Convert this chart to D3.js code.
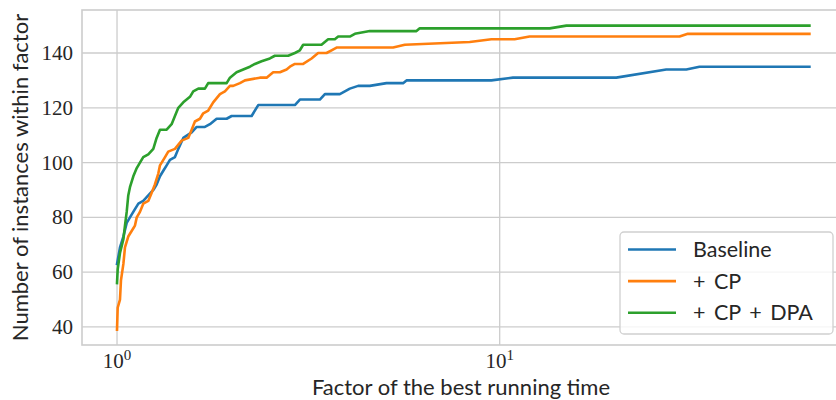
<!DOCTYPE html>
<html>
<head>
<meta charset="utf-8">
<script src="https://cdn.jsdelivr.net/npm/d3@7"></script>
<style>
  body { margin: 0; background: #fff; }
  text { fill: #262626; }
  .tick-label { font-family: "Liberation Serif", serif; font-size: 21px; }
  .axis-label { font-family: Lato, sans-serif; font-size: 22px; }
  .legend text { font-family: Lato, sans-serif; font-size: 21.5px; word-spacing: 3px; }
</style>
</head>
<body>
<svg width="836" height="400"></svg>
<script>
// performance profile: factor of best running time vs. instances solved
var seriesNames = ["Baseline", "+ CP", "+ CP + DPA"];
var seriesColors = ["#1f77b4", "#ff7f0e", "#2ca02c"];

var baselineFactor = [1.0, 1.018, 1.039, 1.060, 1.081, 1.114, 1.137, 1.171, 1.207, 1.244, 1.269, 1.295, 1.321, 1.348, 1.375, 1.417, 1.446, 1.490, 1.567, 1.615, 1.697, 1.749, 1.821, 1.934, 1.993, 2.248, 2.339, 2.665, 2.916, 3.005, 3.389, 3.493, 3.822, 4.059, 4.267, 4.577, 5.061, 5.592, 5.707, 8.35, 9.514, 10.83, 20.17, 27.24, 30.73, 33.28, 64.47];
var baselineCount  = [63, 69, 73, 78, 80, 83, 85, 86, 88, 90, 92, 95, 97, 99, 101, 102, 105, 109, 111, 113, 113, 114, 116, 116, 117, 117, 121, 121, 121, 123, 123, 125, 125, 127, 128, 128, 129, 129, 130, 130, 130, 131, 131, 134, 134, 135, 135];

var cpFactor = [1.0, 1.004, 1.018, 1.024, 1.039, 1.049, 1.070, 1.092, 1.114, 1.126, 1.148, 1.171, 1.207, 1.232, 1.256, 1.282, 1.295, 1.335, 1.361, 1.417, 1.475, 1.535, 1.567, 1.598, 1.647, 1.680, 1.731, 1.784, 1.858, 1.914, 1.973, 2.012, 2.095, 2.159, 2.362, 2.460, 2.559, 2.665, 2.774, 2.830, 2.916, 3.065, 3.224, 3.354, 3.528, 3.636, 3.747, 5.267, 5.649, 8.35, 9.514, 10.94, 11.97, 29.51, 31.02, 64.47];
var cpCount  = [39, 47, 50, 57, 63, 69, 73, 75, 77, 80, 82, 85, 86, 89, 92, 96, 99, 102, 104, 105, 108, 109, 112, 115, 116, 118, 119, 122, 125, 126, 128, 128, 129, 130, 131, 131, 133, 133, 134, 135, 136, 136, 138, 140, 140, 141, 142, 142, 143, 144, 145, 145, 146, 146, 147, 147];

var dpaFactor = [1.0, 1.004, 1.018, 1.039, 1.049, 1.060, 1.070, 1.081, 1.103, 1.126, 1.148, 1.171, 1.207, 1.244, 1.269, 1.295, 1.348, 1.389, 1.417, 1.446, 1.490, 1.551, 1.582, 1.631, 1.697, 1.731, 1.934, 1.973, 2.053, 2.137, 2.225, 2.293, 2.387, 2.509, 2.585, 2.801, 2.916, 3.005, 3.065, 3.423, 3.562, 3.709, 3.784, 4.059, 4.183, 4.577, 6.061, 6.182, 13.51, 14.94, 64.47];
var dpaCount  = [56, 61, 67, 72, 77, 82, 88, 91, 95, 98, 100, 102, 103, 105, 109, 112, 112, 114, 117, 120, 122, 124, 126, 127, 127, 129, 129, 131, 133, 134, 135, 136, 137, 138, 139, 139, 140, 141, 143, 143, 145, 145, 146, 146, 147, 148, 148, 149, 149, 150, 150];

var yTicks = [40, 60, 80, 100, 120, 140];
var xTicks = [1, 10];

var svg = d3.select("svg"),
    width = +svg.attr("width"),
    height = +svg.attr("height");

var plot = {left: 82, top: 10, right: 840, bottom: 345};

var x = d3.scaleLog()
    .domain([0.81, 77.5])
    .range([plot.left, plot.right]);

var y = d3.scaleLinear()
    .domain([33.4, 155.7])
    .range([plot.bottom, plot.top]);

svg.append("clipPath").attr("id", "clip")
  .append("rect")
    .attr("x", plot.left).attr("y", plot.top)
    .attr("width", plot.right - plot.left).attr("height", plot.bottom - plot.top);

// grid
var grid = svg.append("g").attr("class", "grid");
grid.selectAll("line.h")
    .data(yTicks)
  .enter().append("line")
    .attr("x1", plot.left).attr("x2", plot.right)
    .attr("y1", function(d) { return y(d); })
    .attr("y2", function(d) { return y(d); })
    .attr("stroke", "#cccccc").attr("stroke-width", 1.3);
grid.selectAll("line.v")
    .data(xTicks)
  .enter().append("line")
    .attr("y1", plot.top).attr("y2", plot.bottom)
    .attr("x1", function(d) { return x(d); })
    .attr("x2", function(d) { return x(d); })
    .attr("stroke", "#cccccc").attr("stroke-width", 1.3);

// frame
svg.append("rect")
    .attr("x", plot.left).attr("y", plot.top)
    .attr("width", plot.right - plot.left).attr("height", plot.bottom - plot.top)
    .attr("fill", "none")
    .attr("stroke", "#cccccc")
    .attr("stroke-width", 1.6);

// tick labels
svg.append("g").selectAll("text")
    .data(yTicks)
  .enter().append("text")
    .attr("class", "tick-label")
    .attr("x", 73)
    .attr("y", function(d) { return y(d); })
    .attr("dy", "0.34em")
    .attr("text-anchor", "end")
    .text(function(d) { return d; });

var xt = svg.append("g").selectAll("text")
    .data(xTicks)
  .enter().append("text")
    .attr("class", "tick-label")
    .attr("x", function(d) { return x(d); })
    .attr("y", 368)
    .attr("text-anchor", "middle");
xt.append("tspan").text("10");
xt.append("tspan")
    .attr("dy", -8)
    .style("font-size", "15px")
    .text(function(d) { return Math.round(Math.log10(d)); });

// axis labels
svg.append("text")
    .attr("class", "axis-label")
    .attr("x", 461).attr("y", 395)
    .attr("text-anchor", "middle")
    .text("Factor of the best running time");

svg.append("text")
    .attr("class", "axis-label")
    .attr("transform", "translate(28," + ((plot.top + plot.bottom) / 2) + ") rotate(-90)")
    .attr("text-anchor", "middle")
    .text("Number of instances within factor");

// lines
var series = [
  {name: seriesNames[0], color: seriesColors[0], xs: baselineFactor, ys: baselineCount},
  {name: seriesNames[1], color: seriesColors[1], xs: cpFactor, ys: cpCount},
  {name: seriesNames[2], color: seriesColors[2], xs: dpaFactor, ys: dpaCount}
];

var line = d3.line()
    .x(function(d) { return x(d[0]); })
    .y(function(d) { return y(d[1]); });

svg.append("g")
    .attr("clip-path", "url(#clip)")
  .selectAll("path")
    .data(series)
  .enter().append("path")
    .attr("d", function(s) { return line(d3.zip(s.xs, s.ys)); })
    .attr("fill", "none")
    .attr("stroke", function(s) { return s.color; })
    .attr("stroke-width", 2.6)
    .attr("stroke-linejoin", "round")
    .attr("stroke-linecap", "square");

// legend
var legend = svg.append("g")
    .attr("class", "legend")
    .attr("transform", "translate(620,232)");

legend.append("rect")
    .attr("width", 213).attr("height", 102)
    .attr("rx", 4)
    .attr("fill", "#fff").attr("fill-opacity", 0.8)
    .attr("stroke", "#d0d0d0").attr("stroke-width", 1.3);

var item = legend.selectAll("g.item")
    .data(series)
  .enter().append("g")
    .attr("class", "item")
    .attr("transform", function(d, i) { return "translate(0," + (17.5 + i * 31.6) + ")"; });

item.append("line")
    .attr("x1", 8).attr("x2", 56)
    .attr("stroke", function(d) { return d.color; })
    .attr("stroke-width", 2.6);

item.append("text")
    .attr("x", 73)
    .attr("dy", "0.35em")
    .text(function(d) { return d.name; });
</script>
</body>
</html>
